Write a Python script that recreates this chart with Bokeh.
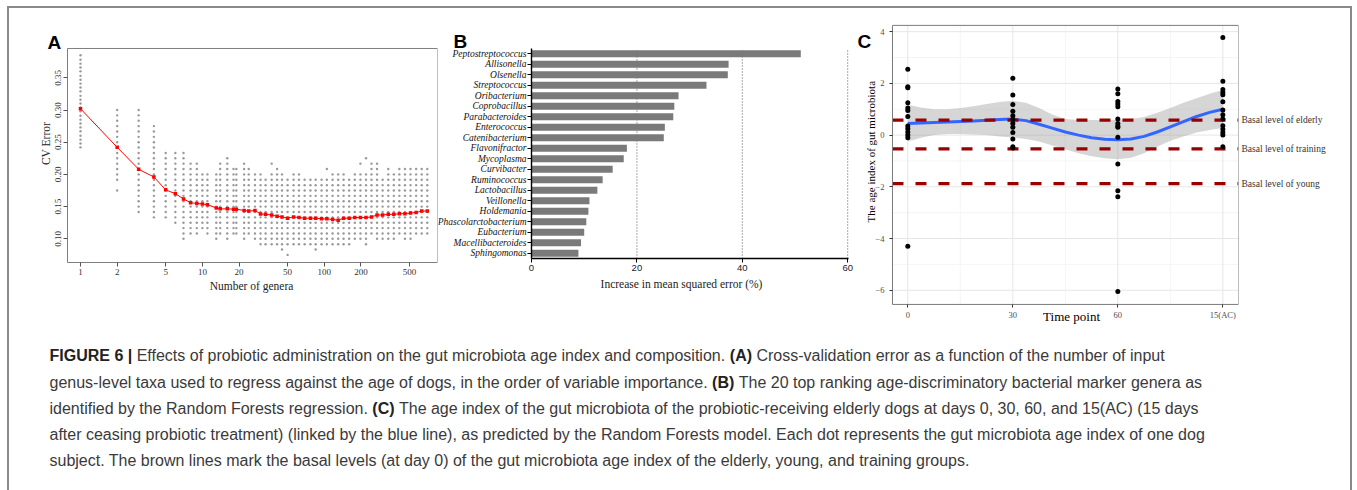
import math
from bokeh.plotting import figure
from bokeh.models import Range1d, FixedTicker, PrintfTickFormatter, LinearAxis
from bokeh.layouts import row, column
from bokeh.embed import file_html
from bokeh.resources import INLINE
from bokeh.core.properties import value

SERIF = "Liberation Serif"
SANS = "Liberation Sans"

# ---------------- Panel A data ----------------
A_n = [1, 2, 3, 4, 5, 6, 7, 8, 9, 10, 11, 13, 14, 16, 18, 19, 22, 24, 27, 30, 33, 37, 41, 45, 50,
       56, 62, 69, 77, 85, 95, 105, 117, 130, 144, 160, 178, 198, 220, 244, 271, 301, 335, 372,
       413, 459, 510, 567, 630, 700]
A_mean = [0.302, 0.242, 0.208, 0.196, 0.176, 0.170, 0.162, 0.156, 0.155, 0.154, 0.153, 0.148,
          0.1465, 0.1465, 0.146, 0.146, 0.144, 0.143, 0.144, 0.1385, 0.138, 0.137, 0.135, 0.134,
          0.132, 0.134, 0.133, 0.132, 0.132, 0.132, 0.131, 0.131, 0.130, 0.129, 0.132, 0.132,
          0.133, 0.133, 0.133, 0.134, 0.137, 0.137, 0.138, 0.138, 0.139, 0.139, 0.140, 0.141,
          0.143, 0.143]
# replicate CV errors at n = 1
A_n1_dots = [0.242, 0.248, 0.254, 0.260, 0.267, 0.273, 0.279, 0.285, 0.291, 0.298, 0.304, 0.310,
             0.316, 0.322, 0.329, 0.335, 0.341, 0.347, 0.353, 0.360, 0.366, 0.372, 0.378, 0.385]
# replicate CV errors for n >= 2: occupied levels (error = level / 120), lowest and highest
A_lo = [23, 17, 16, 16, 15, 13, 13, 13, 14, 13, 12, 13, 12, 13, 13, 12, 13, 12, 11, 11, 11, 11, 11,
        11, 11, 11, 11, 11, 10, 11, 11, 11, 11, 11, 11, 12, 12, 11, 13, 12, 12, 12, 12, 13, 12, 12,
        13, 13, 13]
A_hi = [36, 36, 33, 28, 28, 28, 26, 26, 24, 24, 24, 26, 27, 25, 25, 26, 25, 24, 24, 23, 24, 25, 24,
        23, 24, 24, 23, 23, 23, 23, 23, 24, 24, 24, 23, 24, 24, 24, 26, 26, 23, 25, 24, 25, 25, 25,
        25, 25, 25]
A_extra_n = [2, 7, 37, 45, 50, 105, 198, 220]
A_extra_level = [21, 12, 26, 10, 9, 25, 26, 27]
A_xticks = [1, 2, 5, 10, 20, 50, 100, 200, 500]
A_yticks = [0.10, 0.15, 0.20, 0.25, 0.30, 0.35]

# ---------------- Panel B data ----------------
B_genera = ["Peptostreptococcus", "Allisonella", "Olsenella", "Streptococcus", "Oribacterium",
            "Coprobacillus", "Parabacteroides", "Enterococcus", "Catenibacterium", "Flavonifractor",
            "Mycoplasma", "Curvibacter", "Ruminococcus", "Lactobacillus", "Veillonella",
            "Holdemania", "Phascolarctobacterium", "Eubacterium", "Macellibacteroides",
            "Sphingomonas"]
B_values = [51.1, 37.4, 37.25, 33.2, 27.9, 27.1, 26.9, 25.3, 25.1, 18.1, 17.5, 15.4, 13.5, 12.5,
            11.0, 10.8, 10.4, 10.0, 9.4, 8.9]
B_xticks = [0, 20, 40, 60]
B_gridlines = [20, 40, 60]

# ---------------- Panel C data ----------------
C_time_labels = ["0", "30", "60", "15(AC)"]
C_day0 = [2.55, 1.87, 1.83, 1.25, 1.05, 0.95, 0.72, 0.35, 0.25, 0.12, 0.0, -0.1, -4.3]
C_day30 = [2.2, 1.55, 1.18, 0.92, 0.75, 0.6, 0.45, 0.3, 0.1, -0.15, -0.45, -0.5]
C_day60 = [1.78, 1.6, 1.3, 1.2, 1.1, 0.62, 0.45, 0.35, 0.3, -0.08, -1.12, -2.15, -2.38, -6.05]
C_day15ac = [3.78, 2.08, 1.76, 1.65, 1.56, 1.29, 0.97, 0.79, 0.62, 0.36, 0.23, 0.1, 0.0, -0.45]
C_fit_t = [1.0, 1.125, 1.25, 1.375, 1.5, 1.625, 1.75, 1.875, 2.0, 2.125, 2.25, 2.375, 2.5, 2.625,
           2.75, 2.875, 3.0, 3.125, 3.25, 3.375, 3.5, 3.625, 3.75, 3.875, 4.0]
C_fit = [0.45, 0.47, 0.49, 0.51, 0.53, 0.55, 0.57, 0.60, 0.62, 0.56, 0.42, 0.27, 0.12, 0.0, -0.1,
         -0.16, -0.18, -0.15, -0.05, 0.12, 0.32, 0.52, 0.72, 0.88, 1.0]
C_upper = [1.17, 1.07, 1.0, 1.0, 1.05, 1.12, 1.2, 1.28, 1.33, 1.25, 1.05, 0.8, 0.62, 0.58, 0.58,
           0.58, 0.58, 0.62, 0.7, 0.86, 1.05, 1.25, 1.43, 1.6, 1.74]
C_lower = [-0.25, -0.1, 0.0, 0.04, 0.04, 0.02, 0.0, -0.05, -0.09, -0.15, -0.25, -0.4, -0.55, -0.7,
           -0.82, -0.9, -0.93, -0.88, -0.7, -0.45, -0.22, -0.05, 0.1, 0.2, 0.27]
C_basal_names = ["Basal level of elderly", "Basal level of training", "Basal level of young"]
C_basal_values = [0.58, -0.53, -1.88]
C_xticks = [1, 2, 3, 4]
C_xminor = [1.5, 2.5, 3.5]
C_yticks = [-6, -4, -2, 0, 2, 4]
C_yminor = [-5, -3, -1, 1, 3]

# ---------------- Caption ----------------
CAPTION = [
    [("FIGURE 6 | ", True),
     ("Effects of probiotic administration on the gut microbiota age index and composition. ", False),
     ("(A) ", True), ("Cross-validation error as a function of the number of input", False)],
    [("genus-level taxa used to regress against the age of dogs, in the order of variable importance. ", False),
     ("(B) ", True), ("The 20 top ranking age-discriminatory bacterial marker genera as", False)],
    [("identified by the Random Forests regression. ", False), ("(C) ", True),
     ("The age index of the gut microbiota of the probiotic-receiving elderly dogs at days 0, 30, 60, and 15(AC) (15 days", False)],
    [("after ceasing probiotic treatment) (linked by the blue line), as predicted by the Random Forests model. Each dot represents the gut microbiota age index of one dog", False)],
    [("subject. The brown lines mark the basal levels (at day 0) of the gut microbiota age index of the elderly, young, and training groups.", False)],
]


def style_axis(ax, font=SERIF, size="9px", color="#333333"):
    ax.major_label_text_font = font
    ax.major_label_text_font_size = size
    ax.major_label_text_color = color
    ax.axis_label_text_font_style = "normal"
    ax.minor_tick_line_color = None


def letter(p, x, y, s):
    p.text(x=[x], y=[y], text=[s], text_font=value(SANS), text_font_style="bold",
           text_font_size="19px", text_color="black", text_baseline="alphabetic",
           text_align="left")


def plain_figure(**kw):
    p = figure(output_backend="svg", toolbar_location=None, **kw)
    p.grid.visible = False
    p.outline_line_color = None
    return p


# Every top panel uses a frame from y=8 to y=325 of the page, so the frames line up in the row.
# ================= Panel A =================
A_box = (0.782, 849.0, 0.0632, 0.3955)
pA = plain_figure(width=429, height=327, x_axis_type="log", x_range=Range1d(0.2615, 849.0),
                  y_range=Range1d(-0.0346, 0.4576), min_border_left=0, min_border_right=1,
                  min_border_top=0, min_border_bottom=10)

dot_x, dot_y = [], []
for v in A_n1_dots:
    dot_x.append(A_n[0]); dot_y.append(v)
for n, lo, hi in zip(A_n[1:], A_lo, A_hi):
    for k in range(lo, hi + 1):
        dot_x.append(n); dot_y.append(k / 120)
for n, k in zip(A_extra_n, A_extra_level):
    dot_x.append(n); dot_y.append(k / 120)
pA.scatter(dot_x, dot_y, marker="circle", size=2.4, fill_color="#999999", line_color=None)
pA.line(A_n, A_mean, line_color="#ff0000", line_width=1)
pA.scatter(A_n, A_mean, marker="square", size=3.5, fill_color="#ff0000", line_color=None)
pA.quad(left=[A_box[0]], right=[A_box[1]], bottom=[A_box[2]], top=[A_box[3]], fill_color=None,
        line_color="#7f7f7f", line_width=1)

pA.xaxis.fixed_location = A_box[2]
pA.yaxis.fixed_location = A_box[0]
pA.xaxis.ticker = FixedTicker(ticks=A_xticks)
pA.xaxis.formatter = PrintfTickFormatter(format="%d")
pA.yaxis.ticker = FixedTicker(ticks=A_yticks)
pA.yaxis.formatter = PrintfTickFormatter(format="%.2f")
pA.yaxis.major_label_orientation = "parallel"
for ax in (pA.xaxis[0], pA.yaxis[0]):
    style_axis(ax)
    ax.axis_line_color = None
    ax.major_tick_out = 4
    ax.major_tick_in = 0
    ax.major_tick_line_color = "#555555"
    ax.major_label_standoff = 2
pA.text(x=[0.523], y=[0.248], text=["CV Error"], angle=math.pi / 2, text_align="center",
        text_baseline="middle", text_font=value(SERIF), text_font_size="11.5px",
        text_color="#222222")
pA.text(x=[25.3], y=[0.0264], text=["Number of genera"], text_align="center",
        text_baseline="middle", text_font=value(SERIF), text_font_size="11.5px",
        text_color="#222222")
letter(pA, 0.536, 0.4048, "A")

# ================= Panel B =================
B_pos = list(range(len(B_genera)))[::-1]          # top genus at the top
pB = plain_figure(width=417, height=327, x_range=Range1d(-17.65, 61.48),
                  y_range=Range1d(-6.881, 23.31), min_border_left=0, min_border_right=0,
                  min_border_top=0, min_border_bottom=10)
pB.segment(x0=B_gridlines, x1=B_gridlines, y0=[-0.5] * 3, y1=[len(B_genera) - 0.5] * 3,
           line_color="#555555", line_dash="1 2", line_width=1)
pB.hbar(y=B_pos, left=0, right=B_values, height=0.68, fill_color="#7a7a7a", line_color=None)
pB.xaxis.fixed_location = -0.5
pB.yaxis.fixed_location = 0
pB.xaxis.bounds = (0, 60.15)
pB.yaxis.bounds = (-0.5, len(B_genera) - 0.5)
pB.xaxis.ticker = FixedTicker(ticks=B_xticks)
pB.yaxis.ticker = FixedTicker(ticks=B_pos)
pB.yaxis.major_label_overrides = {p: g for p, g in zip(B_pos, B_genera)}
style_axis(pB.xaxis[0], font=SANS, size="9.5px", color="#222222")
style_axis(pB.yaxis[0], font=SERIF, size="9.5px", color="#111111")
pB.yaxis.major_label_text_font_style = "italic"
for ax in (pB.xaxis[0], pB.yaxis[0]):
    ax.axis_line_color = "black"
    ax.axis_line_width = 1.4
    ax.major_tick_line_color = "black"
    ax.major_tick_out = 4
    ax.major_tick_in = 0
pB.yaxis.major_label_standoff = 1
pB.xaxis.major_label_standoff = 2
pB.text(x=[28.46], y=[-2.91], text=["Increase in mean squared error (%)"], text_align="center",
        text_baseline="middle", text_font=value(SERIF), text_font_size="11.5px",
        text_color="#222222")
letter(pB, -14.8, 20.17, "B")

# ================= Panel C =================
C_box = (0.854, 4.149, -6.55, 4.244)
pC = plain_figure(width=495, height=327, x_range=Range1d(0.5114, 4.149),
                  y_range=Range1d(-7.365, 4.897), min_border_left=1, min_border_right=112,
                  min_border_top=0, min_border_bottom=10)
pC.segment(x0=C_xminor, x1=C_xminor, y0=[C_box[2]] * 3, y1=[C_box[3]] * 3,
           line_color="#f2f2f2", line_width=0.8)
pC.segment(x0=[C_box[0]] * 5, x1=[C_box[1]] * 5, y0=C_yminor, y1=C_yminor,
           line_color="#f2f2f2", line_width=0.8)
pC.segment(x0=C_xticks, x1=C_xticks, y0=[C_box[2]] * 4, y1=[C_box[3]] * 4,
           line_color="#e6e6e6", line_width=1)
pC.segment(x0=[C_box[0]] * 6, x1=[C_box[1]] * 6, y0=C_yticks, y1=C_yticks,
           line_color="#e6e6e6", line_width=1)

pC.varea(x=C_fit_t, y1=C_lower, y2=C_upper, fill_color="#999999", fill_alpha=0.4)
pC.line(C_fit_t, C_fit, line_color="#3366ff", line_width=3)
pC.segment(x0=[C_box[0]] * 3, x1=[C_box[1]] * 3, y0=C_basal_values, y1=C_basal_values,
           line_color="#990000", line_width=3.2, line_dash="11 12")
pts_x, pts_y = [], []
for i, vals in enumerate([C_day0, C_day30, C_day60, C_day15ac]):
    for v in vals:
        pts_x.append(C_xticks[i]); pts_y.append(v)
pC.scatter(pts_x, pts_y, marker="circle", size=5, fill_color="black", line_color=None)
pC.quad(left=[C_box[0]], right=[C_box[1]], bottom=[C_box[2]], top=[C_box[3]], fill_color=None,
        line_color="#7a7a7a", line_width=1)

pC.yaxis.fixed_location = C_box[0]
pC.xaxis.fixed_location = C_box[2]
pC.xaxis.ticker = FixedTicker(ticks=C_xticks)
pC.xaxis.major_label_overrides = {t: lab for t, lab in zip(C_xticks, C_time_labels)}
pC.yaxis.ticker = FixedTicker(ticks=C_yticks)
pC.yaxis.major_label_overrides = {t: (str(t) if t >= 0 else "\u2212" + str(-t)) for t in C_yticks}
for ax in (pC.xaxis[0], pC.yaxis[0]):
    style_axis(ax, font=SERIF, size="8.5px", color="#4d4d4d")
    ax.axis_line_color = None
    ax.major_tick_out = 3
    ax.major_tick_in = 0
    ax.major_tick_line_color = "#333333"
    ax.major_label_standoff = 3
pC.yaxis.major_label_standoff = 5
pC.text(x=[2.559], y=[-7.018], text=["Time point"], text_align="center", text_baseline="middle",
        text_font=value(SERIF), text_font_size="13px", text_color="black")
pC.text(x=[0.654], y=[-0.642], text=["The age index of gut microbiota"], angle=math.pi / 2,
        text_align="center", text_baseline="middle", text_font=value(SERIF),
        text_font_size="11px", text_color="black")

basal_axis = LinearAxis(ticker=FixedTicker(ticks=C_basal_values),
                        major_label_overrides={v: n for v, n in zip(C_basal_values, C_basal_names)},
                        axis_line_color=None, major_tick_line_color=None, major_tick_out=0,
                        major_tick_in=0, minor_tick_line_color=None, major_label_standoff=3,
                        major_label_text_font=SERIF, major_label_text_font_size="9.5px",
                        major_label_text_color="#333333")
pC.add_layout(basal_axis, "right")
letter(pC, 0.521, 3.62, "C")

# ================= Caption =================
AR = {' ': 278, '(': 333, ')': 333, ',': 278, '-': 333, '.': 278, '|': 260,
      'A': 667, 'B': 667, 'C': 722, 'D': 722, 'E': 667, 'F': 611, 'G': 778, 'H': 722, 'I': 278,
      'R': 722, 'S': 667, 'T': 611, 'U': 722,
      'a': 556, 'b': 556, 'c': 500, 'd': 556, 'e': 556, 'f': 278, 'g': 556, 'h': 556, 'i': 222,
      'j': 222, 'k': 500, 'l': 222, 'm': 833, 'n': 556, 'o': 556, 'p': 556, 'q': 556, 'r': 333,
      's': 500, 't': 278, 'u': 556, 'v': 500, 'w': 722, 'x': 500, 'y': 500, 'z': 500}
ARB = {' ': 278, '(': 333, ')': 333, '|': 280, 'A': 722, 'B': 722, 'C': 722, 'E': 667, 'F': 611,
       'G': 778, 'I': 278, 'R': 722, 'U': 722}
CAP_SIZE = 16


def text_width(s, bold):
    table = ARB if bold else AR
    return sum(table.get(ch, 556) for ch in s) * CAP_SIZE / 1000.0


cap = plain_figure(width=1341, height=155, x_range=Range1d(0, 1341), y_range=Range1d(0, 155),
                   min_border=0, x_axis_location=None, y_axis_location=None)
line_y = [135, 108.5, 82.5, 56.5, 30]
bx, by, bt, nx, ny, nt = [], [], [], [], [], []
for segs, yy in zip(CAPTION, line_y):
    x = 40.0
    for s, bold in segs:
        if bold:
            bx.append(x); by.append(yy); bt.append(s.rstrip())
        else:
            nx.append(x); ny.append(yy); nt.append(s.rstrip())
        x += text_width(s, bold)
cap.text(x=nx, y=ny, text=nt, text_font=value(SANS), text_font_size=f"{CAP_SIZE}px",
         text_color="#3a3a3a", text_baseline="middle", text_align="left")
cap.text(x=bx, y=by, text=bt, text_font=value(SANS), text_font_size=f"{CAP_SIZE}px",
         text_font_style="bold", text_color="#222222", text_baseline="middle", text_align="left")

top = row(pA, pB, pC, spacing=0)
root = column(top, cap, spacing=0, margin=(6, 0, 0, 7),
              styles={"border-top": "2px solid #8a8a8a", "border-left": "2px solid #8a8a8a",
                      "border-right": "2px solid #8a8a8a"})

open("out.html", "w").write(file_html(root, INLINE))
